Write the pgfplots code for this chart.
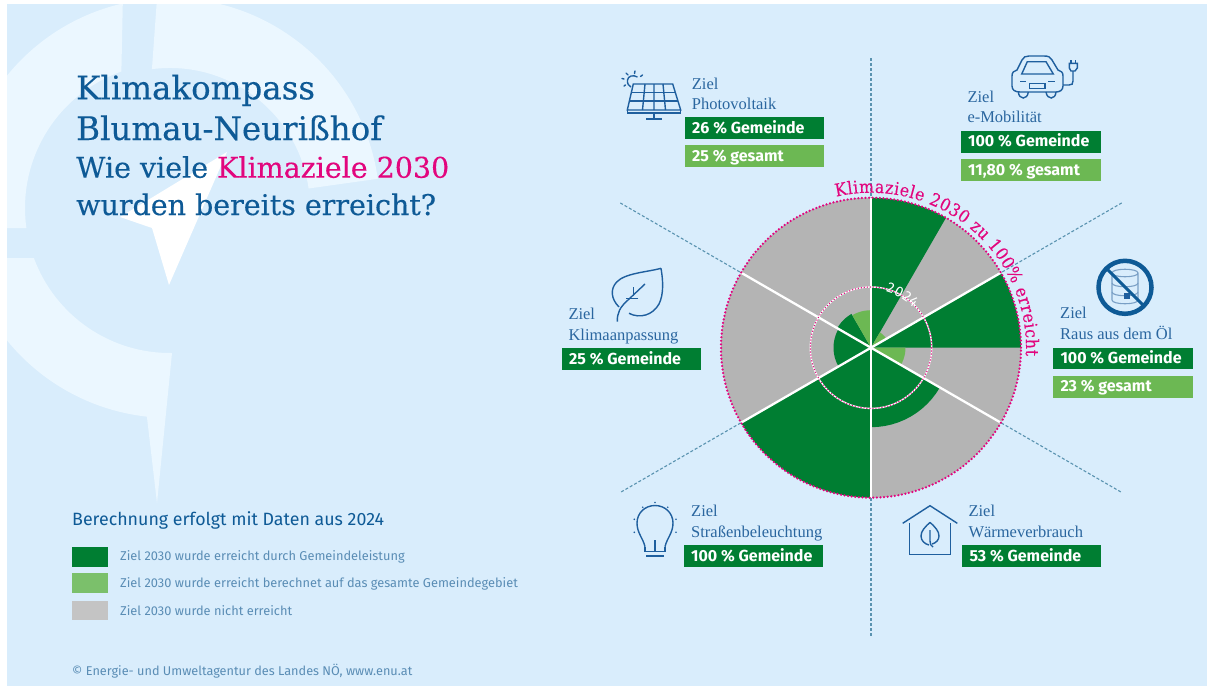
\documentclass[border=0pt]{standalone}
\usepackage{fontspec}
\usepackage{pgfplots}
\pgfplotsset{compat=1.18}
\usepgfplotslibrary{polar}
\usetikzlibrary{decorations.text}
\setmainfont{Fira Sans}
\newfontfamily\slab[FakeBold=0.25]{DejaVu Serif}
\newfontfamily\slabn[FakeStretch=0.9,FakeBold=0.25]{DejaVu Serif}
\newfontfamily\tms{Liberation Serif}
\definecolor{bgc}{HTML}{D9EDFC}
\definecolor{ringc}{HTML}{EBF7FF}
\definecolor{ttl}{HTML}{0E5A96}
\definecolor{tpink}{HTML}{E2067E}
\definecolor{dgreen}{HTML}{007E32}
\definecolor{lgreen}{HTML}{6CB853}
\definecolor{lgreenb}{HTML}{7BC06B}
\definecolor{ggray}{HTML}{B4B4B4}
\definecolor{lgray}{HTML}{C4C4C4}
\definecolor{legt}{HTML}{5A8DB5}
\definecolor{ziel}{HTML}{2A669F}
\definecolor{icon}{HTML}{1F5F9E}
\definecolor{dash}{HTML}{5A93B0}
\newcommand{\gbox}[6]{%
  \fill[#5] (#1,#2) rectangle (#3,#4);
  \node[anchor=base west,inner sep=0pt,text=white,font=\fontsize{16}{16}\selectfont\bfseries] at (#1+7,#4-6) {#6};}
\newcommand{\ziel}[4]{%
  \node[anchor=base west,inner sep=0pt,text=ziel,font=\tms\fontsize{16.5}{16.5}\selectfont] at (#1,#2) {Ziel};
  \node[anchor=base west,inner sep=0pt,text=ziel,font=\tms\fontsize{16.5}{16.5}\selectfont] at (#1,#3) {#4};}
\newcommand{\ttlline}[3]{%
  \node[anchor=base west,inner sep=0pt,text=ttl,font=\slab\fontsize{#3}{#3}\selectfont] at (76,#1) {#2};}
\begin{document}
\begin{tikzpicture}
\begin{axis}[at={(0,0)},anchor=south west,scale only axis,width=1208pt,height=688pt,
  xmin=0,xmax=1208,ymin=0,ymax=688,y dir=reverse,hide axis,clip=false]
\path[use as bounding box] (0,0) rectangle (1208,688);
\begin{scope}
\clip (7,4) rectangle (1207,686);
\fill[bgc] (7,4) rectangle (1207,686);
\fill[ringc] (122.8,3.4) arc[start angle=103,end angle=185.5,radius=210pt] -- (26.4,228) arc[start angle=187.9,end angle=109.6,radius=145pt] -- cycle;
\fill[ringc] (157,-1.6) arc[start angle=93.5,end angle=8,radius=210pt] -- (308.6,188.5) arc[start angle=8,end angle=97.4,radius=140pt] -- cycle;
\fill[ringc] (-34,258) arc[start angle=193.8,end angle=263.7,radius=210pt] -- (157,503) -- (172,353) arc[start angle=270.8,end angle=200.2,radius=145pt] -- cycle;
\fill[white] (227,152) -- (120,217) -- (152,228) -- (169,285) -- cycle;
\end{scope}
% title
\ttlline{99.3}{Klimakompass}{32.5}
\ttlline{140}{Blumau-Neurißhof}{32.5}
\ttlline{177.7}{Wie viele \textcolor{tpink}{Klimaziele 2030}}{28.5}
\ttlline{215}{wurden bereits erreicht?}{28.5}
% legend
\node[anchor=base west,inner sep=0pt,text=ttl,font=\fontsize{17.8}{17.8}\selectfont] at (72,525) {Berechnung erfolgt mit Daten aus 2024};
\fill[dgreen] (72,546.7) rectangle (108,566.7);
\fill[lgreenb] (72,573.3) rectangle (108,592.7);
\fill[lgray] (72,600.7) rectangle (108,620);
\node[anchor=base west,inner sep=0pt,text=legt,font=\fontsize{12.8}{12.8}\selectfont] at (120,560.7) {Ziel 2030 wurde erreicht durch Gemeindeleistung};
\node[anchor=base west,inner sep=0pt,text=legt,font=\fontsize{12.8}{12.8}\selectfont] at (120,587.3) {Ziel 2030 wurde erreicht berechnet auf das gesamte Gemeindegebiet};
\node[anchor=base west,inner sep=0pt,text=legt,font=\fontsize{12.8}{12.8}\selectfont] at (120,615.7) {Ziel 2030 wurde nicht erreicht};
\node[anchor=base west,inner sep=0pt,text=legt,font=\fontsize{12.7}{12.7}\selectfont] at (72,675.7) {© Energie- und Umweltagentur des Landes NÖ, www.enu.at};
% labels
\ziel{691.7}{89.3}{109.3}{Photovoltaik}
\gbox{685}{117.3}{824.3}{139.3}{dgreen}{26 \% Gemeinde}
\gbox{685}{145}{824.3}{167.3}{lgreen}{25 \% gesamt}
\ziel{967.3}{102.3}{122.7}{e-Mobilität}
\gbox{961}{130.7}{1100.7}{152.7}{dgreen}{100 \% Gemeinde}
\gbox{961}{159}{1100.7}{181}{lgreen}{11,80 \% gesamt}
\ziel{1060}{318.3}{339.3}{Raus aus dem Öl}
\gbox{1053.3}{347.7}{1193.3}{369.3}{dgreen}{100 \% Gemeinde}
\gbox{1053.3}{375.7}{1193.3}{397.7}{lgreen}{23 \% gesamt}
\ziel{568.3}{319.3}{340.7}{Klimaanpassung}
\gbox{562}{348.3}{701}{370}{dgreen}{25 \% Gemeinde}
\ziel{691}{516.7}{537.3}{Straßenbeleuchtung}
\gbox{684}{545}{823.3}{567.3}{dgreen}{100 \% Gemeinde}
\ziel{968.3}{516.7}{537.3}{Wärmeverbrauch}
\gbox{962.3}{545}{1101.3}{567.3}{dgreen}{53 \% Gemeinde}
% icons
\begin{scope}[draw=icon,line width=1.4pt]
\draw (627.5,80) .. controls (628,76) and (633,74.5) .. (637.5,77);
\draw (627.5,80) .. controls (627,84) and (629,86) .. (631,87);
\draw[line cap=round] (626,73)--(628,75) (635,71)--(634.5,73.5) (642.5,75)--(640.5,76.5) (622,78.5)--(624,79) (624,86)--(625.5,85);
\draw (633.3,84)--(672.7,84)--(680.7,110)--(627.3,110)--cycle;
\draw (627.3,113)--(680.7,113) (627.3,110)--(627.3,113) (680.7,110)--(680.7,113);
\draw (645,84)--(642.5,110) (654,84)--(654,110) (663,84)--(665.5,110);
\draw (631,92.5)--(675,92.5) (629,101)--(678,101);
\draw (654,113)--(654,119) (646,119)--(662,119);
% car
\draw (1012,76) .. controls (1012,72) and (1014,71) .. (1017,70) -- (1022,60) .. controls (1023,57) and (1026,56) .. (1029,56) -- (1044,56) .. controls (1048,56) and (1051,57) .. (1052,60) -- (1058,70) .. controls (1061,71) and (1063,72) .. (1063,76) -- (1063,86) .. controls (1063,90) and (1060,92) .. (1056,92) -- (1020,92) .. controls (1015,92) and (1012,90) .. (1012,86) -- cycle;
\draw (1027.3,61.7)--(1046,61.7)--(1053.3,74)--(1021.7,74)--cycle;
\draw (1029.3,83.3) rectangle (1045,88.3);
\draw (1020,81.7)--(1026,81.7) (1048.3,81.7)--(1055,81.7);
\draw (1018.3,92) .. controls (1019,100) and (1027.5,100) .. (1028.3,92);
\draw (1046,92) .. controls (1047,100) and (1055.5,100) .. (1056,92);
\draw (1063,85) -- (1069,85) .. controls (1072,85) and (1073,84) .. (1073,81) -- (1073,71);
\draw (1069.3,63.3)--(1077.3,63.3)--(1077.3,68)--(1075,71)--(1071,71)--(1069.3,68)--cycle;
\draw (1071,60)--(1071,63.3) (1075.7,60)--(1075.7,63.3);
% leaf
\draw (661,268.3) .. controls (648,272) and (625,273) .. (616.7,282) .. controls (610,289) and (611,299) .. (619,307) (629,313.3) .. controls (640,319) and (653,315) .. (659,304) .. controls (664,294) and (663,280) .. (661,268.3);
\draw (617.3,321.7) .. controls (617,313) and (620,307) .. (628,300) -- (645,284);
\draw (633.3,287.3)--(633.3,295.7) (638.3,298.3)--(626,298.3);
% bulb
\draw (645,546.7) .. controls (643,538) and (637,533) .. (637,523) .. controls (637,513) and (645,505.5) .. (655,505.5) .. controls (665,505.5) and (673,513) .. (673,523) .. controls (673,533) and (667,538) .. (665,546.7);
\draw (645,546.7)--(645,551.7)--(665,551.7)--(665,546.7) (655,540)--(655,551.7);
\draw[line width=1.6pt] (646,555.7)--(664,555.7);
\fill[icon] (655,502.5) circle (0.9pt) (642.7,507.3) circle (0.9pt) (667.7,507.3) circle (0.9pt) (634.3,519.3) circle (0.9pt) (676,519.3) circle (0.9pt) (634.3,532.3) circle (0.9pt) (676,532.3) circle (0.9pt);
% house
\draw (902.7,523.3)--(930,505.7)--(957.3,523.3);
\draw (909.3,523)--(909.3,554.3)--(950.7,554.3)--(950.7,523);
\draw (930,522.3) .. controls (925,527) and (921,531) .. (921,536) .. controls (921,541) and (925,544) .. (929,545) (932,544) .. controls (936,543) and (939,540) .. (939,536) .. controls (939,531) and (935,527) .. (930,522.3);
\draw (930,530)--(930,541) .. controls (930,544) and (931,546) .. (933,547);
% drum
\draw[icon!60,line width=1.1pt] (1112,273) .. controls (1112,268) and (1138,268) .. (1138,273) .. controls (1138,278) and (1112,278) .. (1112,273) -- (1112,300) .. controls (1112,305) and (1138,305) .. (1138,300) -- (1138,273);
\draw[icon!60,line width=1.1pt] (1112,283) .. controls (1112,288) and (1138,288) .. (1138,283) (1112,292) .. controls (1112,297) and (1138,297) .. (1138,292);
\fill[icon] (1124,293) rectangle (1130,299);
\draw[ttl,line width=4.5pt] (1125,287.3) circle (26.5pt);
\draw[ttl,line width=3pt] (1106,268)--(1144,306);
\end{scope}
\end{axis}
\begin{polaraxis}[at={(871pt,340.3pt)},anchor=center,scale only axis,width=300pt,height=300pt,
  xmin=0,xmax=360,ymin=0,ymax=100,hide axis,clip=false]
% dashed guide lines
\addplot[draw=dash,line width=1.2pt,dash pattern=on 3pt off 2pt,forget plot] coordinates {(90,193) (90,0) (270,193)};
\addplot[draw=dash,line width=1.1pt,dash pattern=on 3pt off 2pt,forget plot] coordinates {(30,193) (30,0) (210,193)};
\addplot[draw=dash,line width=1.1pt,dash pattern=on 3pt off 2pt,forget plot] coordinates {(150,193) (150,0) (330,193)};
% not reached (grey disc)
\addplot[fill=ggray,draw=none,forget plot] coordinates {(0,100)(5,100)(10,100)(15,100)(20,100)(25,100)(30,100)(35,100)(40,100)(45,100)(50,100)(55,100)(60,100)(65,100)(70,100)(75,100)(80,100)(85,100)(90,100)(95,100)(100,100)(105,100)(110,100)(115,100)(120,100)(125,100)(130,100)(135,100)(140,100)(145,100)(150,100)(155,100)(160,100)(165,100)(170,100)(175,100)(180,100)(185,100)(190,100)(195,100)(200,100)(205,100)(210,100)(215,100)(220,100)(225,100)(230,100)(235,100)(240,100)(245,100)(250,100)(255,100)(260,100)(265,100)(270,100)(275,100)(280,100)(285,100)(290,100)(295,100)(300,100)(305,100)(310,100)(315,100)(320,100)(325,100)(330,100)(335,100)(340,100)(345,100)(350,100)(355,100)} -- cycle;
% e-Mobilitaet 100 / 11.8
\addplot[fill=dgreen,draw=none,forget plot] coordinates {(0,0)(60,100)(65,100)(70,100)(75,100)(80,100)(85,100)(90,100)} -- cycle;
\addplot[fill=lgreen,draw=none,forget plot] coordinates {(0,0)(30,11.8)(40,11.8)(50,11.8)(60,11.8)} -- cycle;
% Oel 100 / 23
\addplot[fill=dgreen,draw=none,forget plot] coordinates {(0,0)(0,100)(5,100)(10,100)(15,100)(20,100)(25,100)(30,100)} -- cycle;
\addplot[fill=lgreen,draw=none,forget plot] coordinates {(0,0)(330,23)(335,23)(340,23)(345,23)(350,23)(355,23)(360,23)} -- cycle;
% Waerme 53
\addplot[fill=dgreen,draw=none,forget plot] coordinates {(0,0)(270,53)(275,53)(280,53)(285,53)(290,53)(295,53)(300,53)(305,53)(310,53)(315,53)(320,53)(325,53)(330,53)} -- cycle;
% Strassenbeleuchtung 100
\addplot[fill=dgreen,draw=none,forget plot] coordinates {(0,0)(210,100)(215,100)(220,100)(225,100)(230,100)(235,100)(240,100)(245,100)(250,100)(255,100)(260,100)(265,100)(270,100)} -- cycle;
% Klimaanpassung 25
\addplot[fill=dgreen,draw=none,forget plot] coordinates {(0,0)(150,25)(155,25)(160,25)(165,25)(170,25)(175,25)(180,25)(185,25)(190,25)(195,25)(200,25)(205,25)(210,25)} -- cycle;
% Photovoltaik 26 / 25
\addplot[fill=dgreen,draw=none,forget plot] coordinates {(0,0)(120,26)(125,26)(130,26)(135,26)(140,26)(145,26)(150,26)} -- cycle;
\addplot[fill=lgreen,draw=none,forget plot] coordinates {(0,0)(90,25)(95,25)(100,25)(105,25)(110,25)(115,25)(120,25)} -- cycle;
% white spokes
\addplot[draw=white,line width=2.3pt,forget plot] coordinates {(90,100) (90,0) (270,100)};
\addplot[draw=white,line width=2.3pt,forget plot] coordinates {(30,100) (30,0) (210,100)};
\addplot[draw=white,line width=2.3pt,forget plot] coordinates {(150,100) (150,0) (330,100)};
% circles
\draw[white,line width=1.4pt] (axis cs:0,0) circle (60.7pt);
\draw[tpink,line width=1.5pt,line cap=round,dash pattern=on 0pt off 3pt] (axis cs:0,0) circle (60.7pt);
\draw[tpink,line width=2.5pt,line cap=round,dash pattern=on 0pt off 3.6pt] (axis cs:0,0) circle (150pt);
% curved texts
\path[decorate,decoration={text along path,text align=fit to path,text={|\slabn\fontsize{17.5}{17.5}\selectfont\color{tpink}|Klimaziele 2030 zu 100{\%} erreicht}}] (axis cs:103,103.3) arc[start angle=103,end angle=-3,radius=155pt];
\path[decorate,decoration={text along path,text align=fit to path,text={|\fontsize{14.5}{14.5}\selectfont\color{white}|2024}}] (axis cs:75,38.5) arc[start angle=75,end angle=43,radius=57.7pt];
\end{polaraxis}
\end{tikzpicture}
\end{document}
